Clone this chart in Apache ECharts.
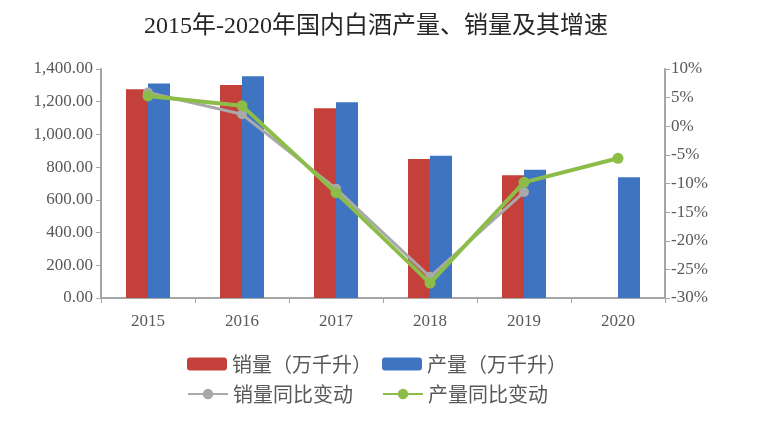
<!DOCTYPE html>
<html>
<head>
<meta charset="utf-8">
<script src="https://cdn.jsdelivr.net/npm/echarts@6/dist/echarts.min.js"></script>
<style>html,body{margin:0;padding:0;background:#fff}#c{width:759px;height:427px}</style>
</head>
<body>
<div id="c"></div>
<script>
const years = ['2015','2016','2017','2018','2019','2020'];
const salesVol = [1276, 1302, 1160, 850, 750, null];
const prodVol = [1312, 1356, 1196, 869, 784, 738];
const salesYoY = [5.9, 2.1, -10.9, -26.3, -11.5, null];
const prodYoY = [5.3, 3.6, -11.6, -27.4, -9.8, -5.6];
const leftTicks = {min: 0, max: 1400, interval: 200};
const rightTicks = {min: -30, max: 10, interval: 5};

const serif = 'Liberation Serif, DejaVu Serif, Noto Sans CJK SC, serif';
const cjk = 'Noto Sans CJK SC, sans-serif';
const labelColor = '#595959';
const axisColor = '#a6a6a6';

const chart = echarts.init(document.getElementById('c'));
const legendText = {fontSize: 20, color: labelColor, fontFamily: cjk};
function lg(name, left, top) {
  return {data: [name], left: left, top: top, itemWidth: 40, itemHeight: 13, itemGap: 0,
    textStyle: legendText, padding: 0};
}
chart.setOption({
  animation: false,
  title: {
    text: '2015年-2020年国内白酒产量、销量及其增速',
    left: 139, top: 10,
    textStyle: {fontSize: 24, fontWeight: 'normal', color: '#262626', fontFamily: serif}
  },
  legend: [
    lg('销量（万千升）', 187, 354),
    lg('产量（万千升）', 382, 354),
    lg('销量同比变动', 187, 384),
    lg('产量同比变动', 382, 384)
  ],
  grid: {left: 101, right: 94, top: 69, bottom: 129},
  xAxis: {
    type: 'category', data: years,
    axisLine: {lineStyle: {color: axisColor, width: 2}},
    axisTick: {show: true, alignWithLabel: false, lineStyle: {color: axisColor}},
    axisLabel: {fontSize: 17, color: labelColor, fontFamily: serif, margin: 15}
  },
  yAxis: [{
    type: 'value', min: leftTicks.min, max: leftTicks.max, interval: leftTicks.interval,
    axisLine: {show: true, lineStyle: {color: axisColor, width: 2}},
    axisTick: {show: true, lineStyle: {color: axisColor}},
    splitLine: {show: false},
    axisLabel: {fontSize: 17, color: labelColor, fontFamily: serif, margin: 8,
      formatter: v => v.toLocaleString('en-US', {minimumFractionDigits: 2, maximumFractionDigits: 2})}
  }, {
    type: 'value', min: rightTicks.min, max: rightTicks.max, interval: rightTicks.interval,
    position: 'right',
    axisLine: {show: true, lineStyle: {color: axisColor, width: 2}},
    axisTick: {show: true, lineStyle: {color: axisColor}},
    splitLine: {show: false},
    axisLabel: {fontSize: 17, color: labelColor, fontFamily: serif, margin: 6, formatter: v => v + '%'}
  }],
  series: [{
    name: '销量（万千升）', type: 'bar', data: salesVol, barWidth: 22, barGap: '0%',
    itemStyle: {color: '#c4403b'}
  }, {
    name: '产量（万千升）', type: 'bar', data: prodVol, barWidth: 22,
    itemStyle: {color: '#3f74c3'}
  }, {
    name: '销量同比变动', type: 'line', yAxisIndex: 1, data: salesYoY,
    symbol: 'circle', symbolSize: 10,
    lineStyle: {color: '#a9a9a9', width: 3}, itemStyle: {color: '#a9a9a9'}, z: 3
  }, {
    name: '产量同比变动', type: 'line', yAxisIndex: 1, data: prodYoY,
    symbol: 'circle', symbolSize: 11,
    lineStyle: {color: '#8cbd48', width: 4}, itemStyle: {color: '#8cbd48'}, z: 4
  }]
});
</script>
</body>
</html>
